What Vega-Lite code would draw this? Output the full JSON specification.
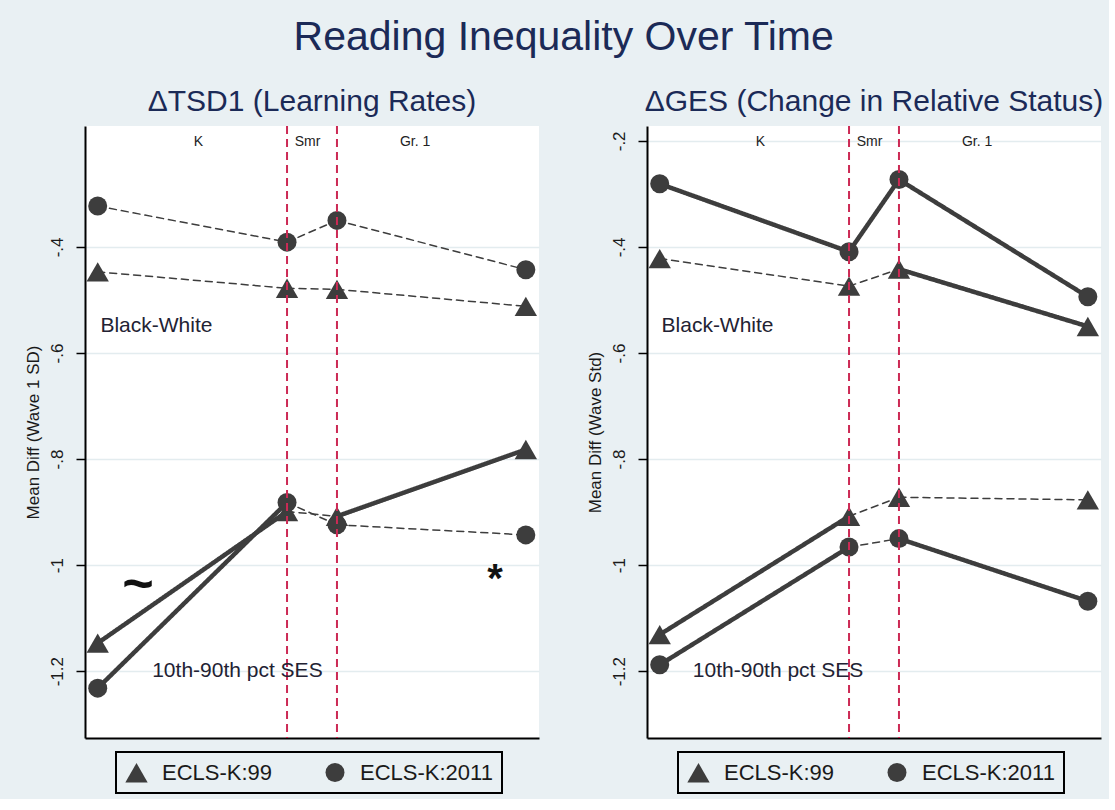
{
  "$schema": "https://vega.github.io/schema/vega-lite/v6.json",
  "background": "#e9f0f3",
  "padding": {"left": 24, "top": 17, "right": 5, "bottom": 5},
  "title": {
    "text": "Reading Inequality Over Time",
    "fontSize": 41,
    "font": "Liberation Sans",
    "fontWeight": "normal",
    "color": "#1b2a57",
    "anchor": "middle",
    "offset": 28
  },
  "datasets": {
    "series": [
      {"panel": "rates", "gap": "Black-White", "cohort": "ECLS-K:99", "wave": "Fall K", "t": 0.28, "diff": -0.447, "change": "ns"},
      {"panel": "rates", "gap": "Black-White", "cohort": "ECLS-K:99", "wave": "Spring K", "t": 4.45, "diff": -0.478, "change": "ns"},
      {"panel": "rates", "gap": "Black-White", "cohort": "ECLS-K:99", "wave": "Fall 1", "t": 5.55, "diff": -0.48, "change": "ns"},
      {"panel": "rates", "gap": "Black-White", "cohort": "ECLS-K:99", "wave": "Spring 1", "t": 9.71, "diff": -0.512},
      {"panel": "rates", "gap": "Black-White", "cohort": "ECLS-K:2011", "wave": "Fall K", "t": 0.28, "diff": -0.323, "change": "ns"},
      {"panel": "rates", "gap": "Black-White", "cohort": "ECLS-K:2011", "wave": "Spring K", "t": 4.45, "diff": -0.391, "change": "ns"},
      {"panel": "rates", "gap": "Black-White", "cohort": "ECLS-K:2011", "wave": "Fall 1", "t": 5.55, "diff": -0.35, "change": "ns"},
      {"panel": "rates", "gap": "Black-White", "cohort": "ECLS-K:2011", "wave": "Spring 1", "t": 9.71, "diff": -0.443},
      {"panel": "rates", "gap": "SES", "cohort": "ECLS-K:99", "wave": "Fall K", "t": 0.28, "diff": -1.147, "change": "sig"},
      {"panel": "rates", "gap": "SES", "cohort": "ECLS-K:99", "wave": "Spring K", "t": 4.45, "diff": -0.899, "change": "ns"},
      {"panel": "rates", "gap": "SES", "cohort": "ECLS-K:99", "wave": "Fall 1", "t": 5.55, "diff": -0.908, "change": "sig"},
      {"panel": "rates", "gap": "SES", "cohort": "ECLS-K:99", "wave": "Spring 1", "t": 9.71, "diff": -0.782},
      {"panel": "rates", "gap": "SES", "cohort": "ECLS-K:2011", "wave": "Fall K", "t": 0.28, "diff": -1.232, "change": "sig"},
      {"panel": "rates", "gap": "SES", "cohort": "ECLS-K:2011", "wave": "Spring K", "t": 4.45, "diff": -0.882, "change": "ns"},
      {"panel": "rates", "gap": "SES", "cohort": "ECLS-K:2011", "wave": "Fall 1", "t": 5.55, "diff": -0.924, "change": "ns"},
      {"panel": "rates", "gap": "SES", "cohort": "ECLS-K:2011", "wave": "Spring 1", "t": 9.71, "diff": -0.943},
      {"panel": "status", "gap": "Black-White", "cohort": "ECLS-K:99", "wave": "Fall K", "t": 0.28, "diff": -0.422, "change": "ns"},
      {"panel": "status", "gap": "Black-White", "cohort": "ECLS-K:99", "wave": "Spring K", "t": 4.45, "diff": -0.474, "change": "ns"},
      {"panel": "status", "gap": "Black-White", "cohort": "ECLS-K:99", "wave": "Fall 1", "t": 5.55, "diff": -0.442, "change": "sig"},
      {"panel": "status", "gap": "Black-White", "cohort": "ECLS-K:99", "wave": "Spring 1", "t": 9.71, "diff": -0.55},
      {"panel": "status", "gap": "Black-White", "cohort": "ECLS-K:2011", "wave": "Fall K", "t": 0.28, "diff": -0.281, "change": "sig"},
      {"panel": "status", "gap": "Black-White", "cohort": "ECLS-K:2011", "wave": "Spring K", "t": 4.45, "diff": -0.409, "change": "sig"},
      {"panel": "status", "gap": "Black-White", "cohort": "ECLS-K:2011", "wave": "Fall 1", "t": 5.55, "diff": -0.273, "change": "sig"},
      {"panel": "status", "gap": "Black-White", "cohort": "ECLS-K:2011", "wave": "Spring 1", "t": 9.71, "diff": -0.494},
      {"panel": "status", "gap": "SES", "cohort": "ECLS-K:99", "wave": "Fall K", "t": 0.28, "diff": -1.131, "change": "sig"},
      {"panel": "status", "gap": "SES", "cohort": "ECLS-K:99", "wave": "Spring K", "t": 4.45, "diff": -0.908, "change": "ns"},
      {"panel": "status", "gap": "SES", "cohort": "ECLS-K:99", "wave": "Fall 1", "t": 5.55, "diff": -0.872, "change": "ns"},
      {"panel": "status", "gap": "SES", "cohort": "ECLS-K:99", "wave": "Spring 1", "t": 9.71, "diff": -0.877},
      {"panel": "status", "gap": "SES", "cohort": "ECLS-K:2011", "wave": "Fall K", "t": 0.28, "diff": -1.188, "change": "sig"},
      {"panel": "status", "gap": "SES", "cohort": "ECLS-K:2011", "wave": "Spring K", "t": 4.45, "diff": -0.966, "change": "ns"},
      {"panel": "status", "gap": "SES", "cohort": "ECLS-K:2011", "wave": "Fall 1", "t": 5.55, "diff": -0.95, "change": "sig"},
      {"panel": "status", "gap": "SES", "cohort": "ECLS-K:2011", "wave": "Spring 1", "t": 9.71, "diff": -1.068}
    ],
    "breaks": [
      {"between": "K / Smr", "t": 4.45},
      {"between": "Smr / Gr. 1", "t": 5.55}
    ],
    "phases": [
      {"label": "K", "t": 2.5, "diff": -0.203},
      {"label": "Smr", "t": 4.9, "diff": -0.203},
      {"label": "Gr. 1", "t": 7.27, "diff": -0.203}
    ],
    "notes": [
      {"panel": "rates", "kind": "group", "label": "Black-White", "t": 0.34, "diff": -0.55},
      {"panel": "rates", "kind": "group", "label": "10th-90th pct SES", "t": 1.48, "diff": -1.2},
      {"panel": "status", "kind": "group", "label": "Black-White", "t": 0.32, "diff": -0.55},
      {"panel": "status", "kind": "group", "label": "10th-90th pct SES", "t": 1.01, "diff": -1.2},
      {"panel": "rates", "kind": "tilde", "label": "~", "t": 1.17, "diff": -1.034},
      {"panel": "rates", "kind": "star", "label": "*", "t": 9.03, "diff": -1.008}
    ]
  },
  "spacing": 47,
  "resolve": {
    "scale": {"shape": "independent", "size": "independent", "strokeDash": "independent", "strokeWidth": "independent"},
    "legend": {"shape": "independent", "size": "independent"}
  },
  "hconcat": [
    {
      "title": {"text": "ΔTSD1 (Learning Rates)", "fontSize": 30, "font": "Liberation Sans", "fontWeight": "normal", "color": "#1b2a57", "offset": 8},
      "width": 454,
      "height": 612,
      "layer": [
        {
          "data": {"name": "series"},
          "transform": [
            {"filter": "datum.panel === 'rates'"},
            {"window": [{"op": "lead", "field": "t", "as": "t2"}, {"op": "lead", "field": "diff", "as": "diff2"}], "groupby": ["gap", "cohort"], "sort": [{"field": "t", "order": "ascending"}]},
            {"filter": "datum.t2 != null"}
          ],
          "mark": {"type": "rule", "color": "#3d3d3d", "strokeCap": "round"},
          "encoding": {
            "x": {"field": "t", "type": "quantitative", "scale": {"domain": [0, 10], "nice": false, "zero": false},
              "axis": {"title": null, "labels": false, "ticks": false, "grid": false, "domainColor": "black", "domainWidth": 2}},
            "x2": {"field": "t2"},
            "y": {"field": "diff", "type": "quantitative", "scale": {"domain": [-1.326, -0.172], "nice": false, "zero": false},
              "axis": {"title": "Mean Diff (Wave 1 SD)", "values": [-1.2, -1, -0.8, -0.6, -0.4],
                "labelExpr": "(datum.value < 0 ? '-' : '') + replace(format(abs(datum.value), '~g'), '0.', '.')"}},
            "y2": {"field": "diff2"},
            "strokeDash": {"field": "change", "type": "nominal", "scale": {"domain": ["sig", "ns"], "range": [[1, 0], [7, 5]]}, "legend": null},
            "strokeWidth": {"field": "change", "type": "ordinal", "scale": {"domain": ["sig", "ns"], "range": [4.5, 1.5]}, "legend": null}
          }
        },
        {
          "data": {"name": "series"},
          "transform": [{"filter": "datum.panel === 'rates'"}],
          "mark": {"type": "point", "filled": true, "opacity": 1, "color": "#3d3d3d"},
          "encoding": {
            "x": {"field": "t", "type": "quantitative"},
            "y": {"field": "diff", "type": "quantitative"},
            "shape": {"field": "cohort", "type": "nominal", "scale": {"domain": ["ECLS-K:99", "ECLS-K:2011"], "range": ["triangle-up", "circle"]},
              "legend": {"title": null, "orient": "none", "legendX": 31, "legendY": 626, "direction": "horizontal"}},
            "size": {"field": "cohort", "type": "nominal", "scale": {"domain": ["ECLS-K:99", "ECLS-K:2011"], "range": [500, 361]},
              "legend": {"title": null, "orient": "none", "legendX": 31, "legendY": 626, "direction": "horizontal"}}
          }
        },
        {
          "data": {"name": "breaks"},
          "mark": {"type": "rule", "color": "#cc2a55", "strokeWidth": 2, "strokeDash": [8, 5]},
          "encoding": {"x": {"field": "t", "type": "quantitative"}}
        },
        {
          "data": {"name": "phases"},
          "mark": {"type": "text", "fontSize": 14, "color": "#222222", "baseline": "middle"},
          "encoding": {"x": {"field": "t", "type": "quantitative"}, "y": {"field": "diff", "type": "quantitative"}, "text": {"field": "label"}}
        },
        {
          "data": {"name": "notes"},
          "transform": [{"filter": "datum.panel === 'rates' && datum.kind === 'group'"}],
          "mark": {"type": "text", "fontSize": 21, "color": "#222233", "align": "left", "baseline": "middle"},
          "encoding": {"x": {"field": "t", "type": "quantitative"}, "y": {"field": "diff", "type": "quantitative"}, "text": {"field": "label"}}
        },
        {
          "data": {"name": "notes"},
          "transform": [{"filter": "datum.panel === 'rates' && datum.kind === 'tilde'"}],
          "mark": {"type": "text", "fontSize": 54, "fontWeight": "bold", "color": "#111111", "baseline": "alphabetic", "dy": 19},
          "encoding": {"x": {"field": "t", "type": "quantitative"}, "y": {"field": "diff", "type": "quantitative"}, "text": {"field": "label"}}
        },
        {
          "data": {"name": "notes"},
          "transform": [{"filter": "datum.panel === 'rates' && datum.kind === 'star'"}],
          "mark": {"type": "text", "fontSize": 40, "fontWeight": "bold", "color": "#111111", "baseline": "alphabetic", "dy": 23},
          "encoding": {"x": {"field": "t", "type": "quantitative"}, "y": {"field": "diff", "type": "quantitative"}, "text": {"field": "label"}}
        }
      ]
    },
    {
      "title": {"text": "ΔGES (Change in Relative Status)", "fontSize": 30, "font": "Liberation Sans", "fontWeight": "normal", "color": "#1b2a57", "offset": 8},
      "width": 454,
      "height": 612,
      "layer": [
        {
          "data": {"name": "series"},
          "transform": [
            {"filter": "datum.panel === 'status'"},
            {"window": [{"op": "lead", "field": "t", "as": "t2"}, {"op": "lead", "field": "diff", "as": "diff2"}], "groupby": ["gap", "cohort"], "sort": [{"field": "t", "order": "ascending"}]},
            {"filter": "datum.t2 != null"}
          ],
          "mark": {"type": "rule", "color": "#3d3d3d", "strokeCap": "round"},
          "encoding": {
            "x": {"field": "t", "type": "quantitative", "scale": {"domain": [0, 10], "nice": false, "zero": false},
              "axis": {"title": null, "labels": false, "ticks": false, "grid": false, "domainColor": "black", "domainWidth": 2}},
            "x2": {"field": "t2"},
            "y": {"field": "diff", "type": "quantitative", "scale": {"domain": [-1.326, -0.172], "nice": false, "zero": false},
              "axis": {"title": "Mean Diff (Wave Std)", "values": [-1.2, -1, -0.8, -0.6, -0.4, -0.2],
                "labelExpr": "(datum.value < 0 ? '-' : '') + replace(format(abs(datum.value), '~g'), '0.', '.')"}},
            "y2": {"field": "diff2"},
            "strokeDash": {"field": "change", "type": "nominal", "scale": {"domain": ["sig", "ns"], "range": [[1, 0], [7, 5]]}, "legend": null},
            "strokeWidth": {"field": "change", "type": "ordinal", "scale": {"domain": ["sig", "ns"], "range": [4.5, 1.5]}, "legend": null}
          }
        },
        {
          "data": {"name": "series"},
          "transform": [{"filter": "datum.panel === 'status'"}],
          "mark": {"type": "point", "filled": true, "opacity": 1, "color": "#3d3d3d"},
          "encoding": {
            "x": {"field": "t", "type": "quantitative"},
            "y": {"field": "diff", "type": "quantitative"},
            "shape": {"field": "cohort", "type": "nominal", "scale": {"domain": ["ECLS-K:99", "ECLS-K:2011"], "range": ["triangle-up", "circle"]},
              "legend": {"title": null, "orient": "none", "legendX": 31, "legendY": 626, "direction": "horizontal"}},
            "size": {"field": "cohort", "type": "nominal", "scale": {"domain": ["ECLS-K:99", "ECLS-K:2011"], "range": [500, 361]},
              "legend": {"title": null, "orient": "none", "legendX": 31, "legendY": 626, "direction": "horizontal"}}
          }
        },
        {
          "data": {"name": "breaks"},
          "mark": {"type": "rule", "color": "#cc2a55", "strokeWidth": 2, "strokeDash": [8, 5]},
          "encoding": {"x": {"field": "t", "type": "quantitative"}}
        },
        {
          "data": {"name": "phases"},
          "mark": {"type": "text", "fontSize": 14, "color": "#222222", "baseline": "middle"},
          "encoding": {"x": {"field": "t", "type": "quantitative"}, "y": {"field": "diff", "type": "quantitative"}, "text": {"field": "label"}}
        },
        {
          "data": {"name": "notes"},
          "transform": [{"filter": "datum.panel === 'status' && datum.kind === 'group'"}],
          "mark": {"type": "text", "fontSize": 21, "color": "#222233", "align": "left", "baseline": "middle"},
          "encoding": {"x": {"field": "t", "type": "quantitative"}, "y": {"field": "diff", "type": "quantitative"}, "text": {"field": "label"}}
        }
      ]
    }
  ],
  "config": {
    "font": "Liberation Sans",
    "view": {"fill": "white", "stroke": null},
    "axisY": {
      "grid": true, "gridColor": "#e3ecef", "gridWidth": 1.5,
      "domainColor": "black", "domainWidth": 2,
      "tickColor": "black", "tickSize": 9, "tickWidth": 1.5,
      "labelAngle": 270, "labelAlign": "center", "labelBaseline": "bottom", "labelPadding": 10,
      "labelFontSize": 17, "labelColor": "#1a1a1a",
      "titleFontSize": 17, "titleFontWeight": "normal", "titleColor": "#1a1a1a", "titlePadding": 6
    },
    "legend": {
      "fillColor": "#e9f0f3", "strokeColor": "black", "strokeWidth": 2, "padding": 9,
      "labelFontSize": 22, "labelColor": "#1a1a1a", "labelOffset": 14, "columnPadding": 30, "gridAlign": "all",
      "symbolFillColor": "#3d3d3d", "symbolStrokeWidth": 0
    }
  }
}
